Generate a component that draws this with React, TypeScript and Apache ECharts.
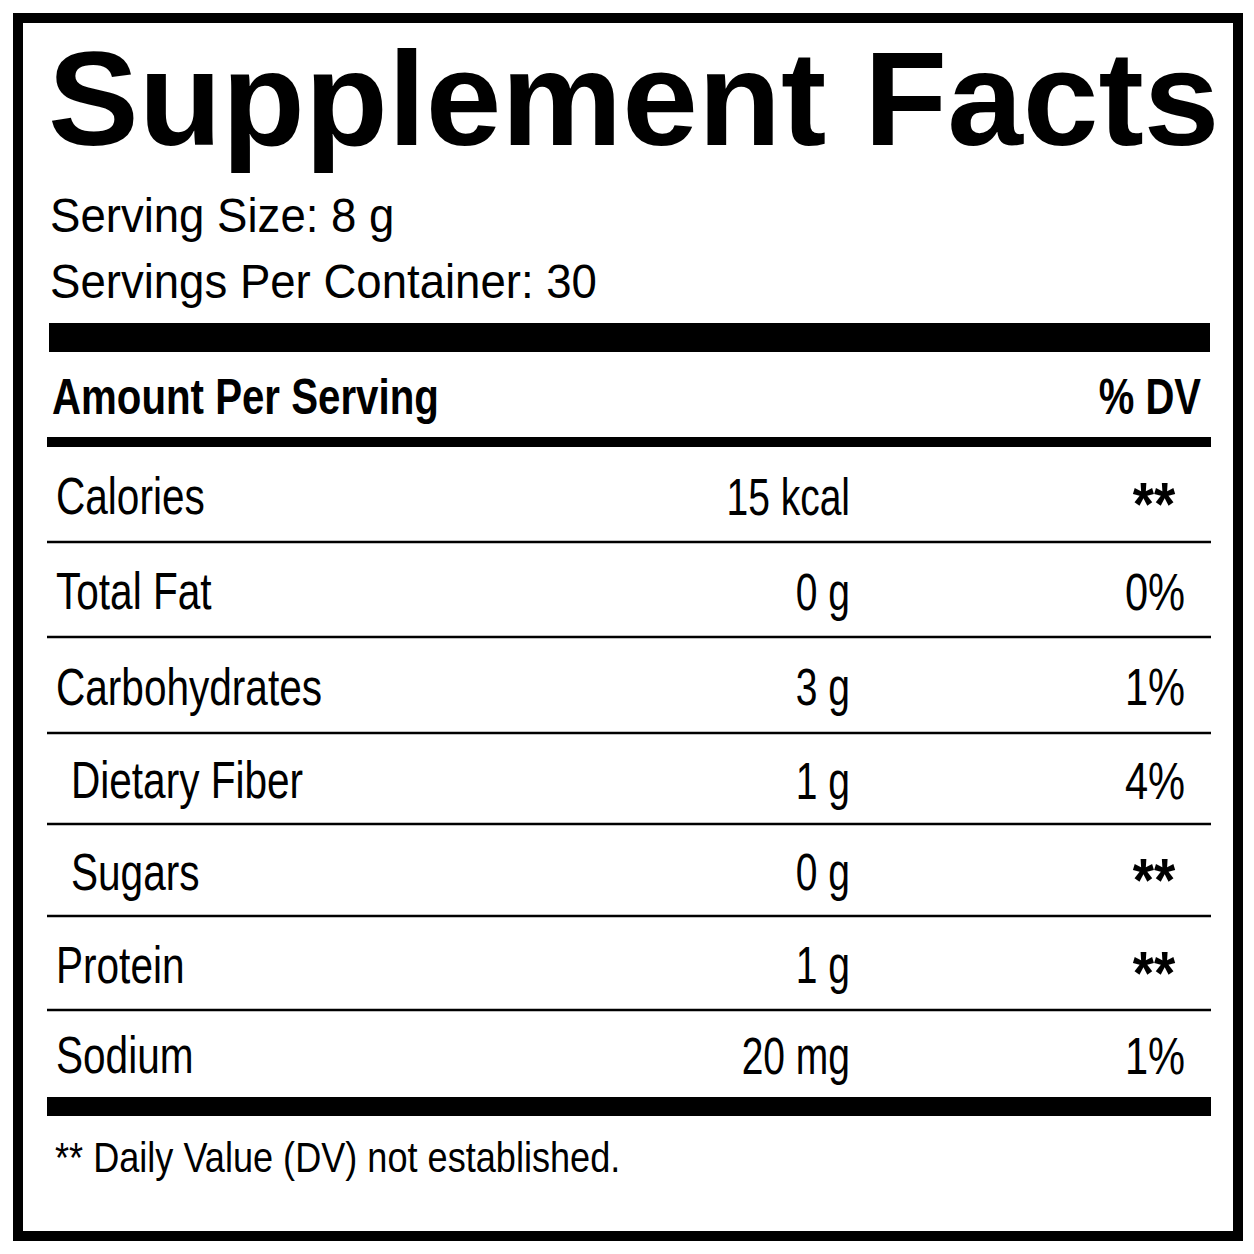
import React, { useEffect, useRef } from "react";
import * as echarts from "echarts";

// ---- content ----
const TITLE = "Supplement Facts";
const SERVING_LINES = ["Serving Size: 8 g", "Servings Per Container: 30"];
const HEADER_LEFT = "Amount Per Serving";
const HEADER_RIGHT = "% DV";
const NUTRIENTS = ["Calories", "Total Fat", "Carbohydrates", "Dietary Fiber", "Sugars", "Protein", "Sodium"];
const AMOUNTS = ["15 kcal", "0 g", "3 g", "1 g", "0 g", "1 g", "20 mg"];
const DAILY_VALUES = ["**", "0%", "1%", "4%", "**", "**", "1%"];
const INDENTED = [false, false, false, true, true, false, false];
const FOOTNOTE = "** Daily Value (DV) not established.";

// ---- layout (pixels) ----
const W = 1254;
const ROW_EDGES = [447, 542, 637, 733, 824, 916, 1010, 1097];
const TABLE_LEFT = 47;
const TABLE_RIGHT = 1210;
const FONT = "'Liberation Sans', Arial, Helvetica, sans-serif";

function buildGraphic() {
  const els: any[] = [];
  // outer frame
  els.push({
    type: "rect",
    shape: { x: 18, y: 18, width: 1220, height: 1218 },
    style: { fill: "none", stroke: "#000", lineWidth: 10 },
  });
  // title
  els.push({
    type: "text",
    x: 48,
    y: 99,
    scaleX: 1.015,
    style: {
      text: TITLE,
      font: `bold 134px ${FONT}`,
      fill: "#000",
      align: "left",
      verticalAlign: "middle",
    },
  });
  // serving lines
  const servY = [215, 281];
  SERVING_LINES.forEach((t, i) => {
    els.push({
      type: "text",
      x: 50,
      y: servY[i],
      scaleX: 0.93,
      style: { text: t, font: `49px ${FONT}`, fill: "#000", align: "left", verticalAlign: "middle" },
    });
  });
  // thick bar 1
  els.push({ type: "rect", shape: { x: 49, y: 323, width: 1161, height: 29 }, style: { fill: "#000" } });
  // header
  els.push({
    type: "text",
    x: 52,
    y: 397,
    scaleX: 0.805,
    style: { text: HEADER_LEFT, font: `bold 50px ${FONT}`, fill: "#000", align: "left", verticalAlign: "middle" },
  });
  els.push({
    type: "text",
    x: 1201,
    y: 397,
    scaleX: 0.8,
    style: { text: HEADER_RIGHT, font: `bold 50px ${FONT}`, fill: "#000", align: "right", verticalAlign: "middle" },
  });
  // thick bar 2
  els.push({ type: "rect", shape: { x: TABLE_LEFT, y: 437, width: TABLE_RIGHT - TABLE_LEFT + 1, height: 10 }, style: { fill: "#000" } });

  // rows
  NUTRIENTS.forEach((name, i) => {
    const top = ROW_EDGES[i];
    const bottom = ROW_EDGES[i + 1];
    const cy = (top + bottom) / 2 + 2;
    els.push({
      type: "text",
      x: INDENTED[i] ? 71 : 56,
      y: cy,
      scaleX: 0.78,
      style: { text: name, font: `52px ${FONT}`, fill: "#000", align: "left", verticalAlign: "middle" },
    });
    els.push({
      type: "text",
      x: 850,
      y: cy,
      scaleX: 0.75,
      style: { text: AMOUNTS[i], font: `52px ${FONT}`, fill: "#000", align: "right", verticalAlign: "middle" },
    });
    const isStar = DAILY_VALUES[i] === "**";
    els.push({
      type: "text",
      x: isStar ? 1154 : 1155,
      y: isStar ? cy + 7 : cy,
      scaleX: isStar ? 0.88 : 0.8,
      style: {
        text: DAILY_VALUES[i],
        font: isStar ? `bold 62px ${FONT}` : `52px ${FONT}`,
        fill: "#000",
        align: "center",
        verticalAlign: "middle",
      },
    });
    if (i < NUTRIENTS.length - 1) {
      els.push({
        type: "rect",
        shape: { x: TABLE_LEFT, y: bottom - 1.25, width: TABLE_RIGHT - TABLE_LEFT + 1, height: 2.5 },
        style: { fill: "#000" },
      });
    }
  });
  // thick bar 3
  els.push({ type: "rect", shape: { x: TABLE_LEFT, y: 1097, width: TABLE_RIGHT - TABLE_LEFT + 1, height: 19 }, style: { fill: "#000" } });
  // footnote
  els.push({
    type: "text",
    x: 55,
    y: 1158,
    scaleX: 0.86,
    style: { text: FOOTNOTE, font: `42px ${FONT}`, fill: "#000", align: "left", verticalAlign: "middle" },
  });
  return els;
}

export default function App() {
  const ref = useRef<HTMLDivElement>(null);
  useEffect(() => {
    document.body.style.margin = "0";
    const chart = echarts.init(ref.current!, null, { renderer: "svg" });
    chart.setOption({
      animation: false,
      backgroundColor: "#ffffff",
      graphic: { elements: buildGraphic() },
    });
    return () => chart.dispose();
  }, []);
  return <div ref={ref} style={{ width: W, height: W }} />;
}
